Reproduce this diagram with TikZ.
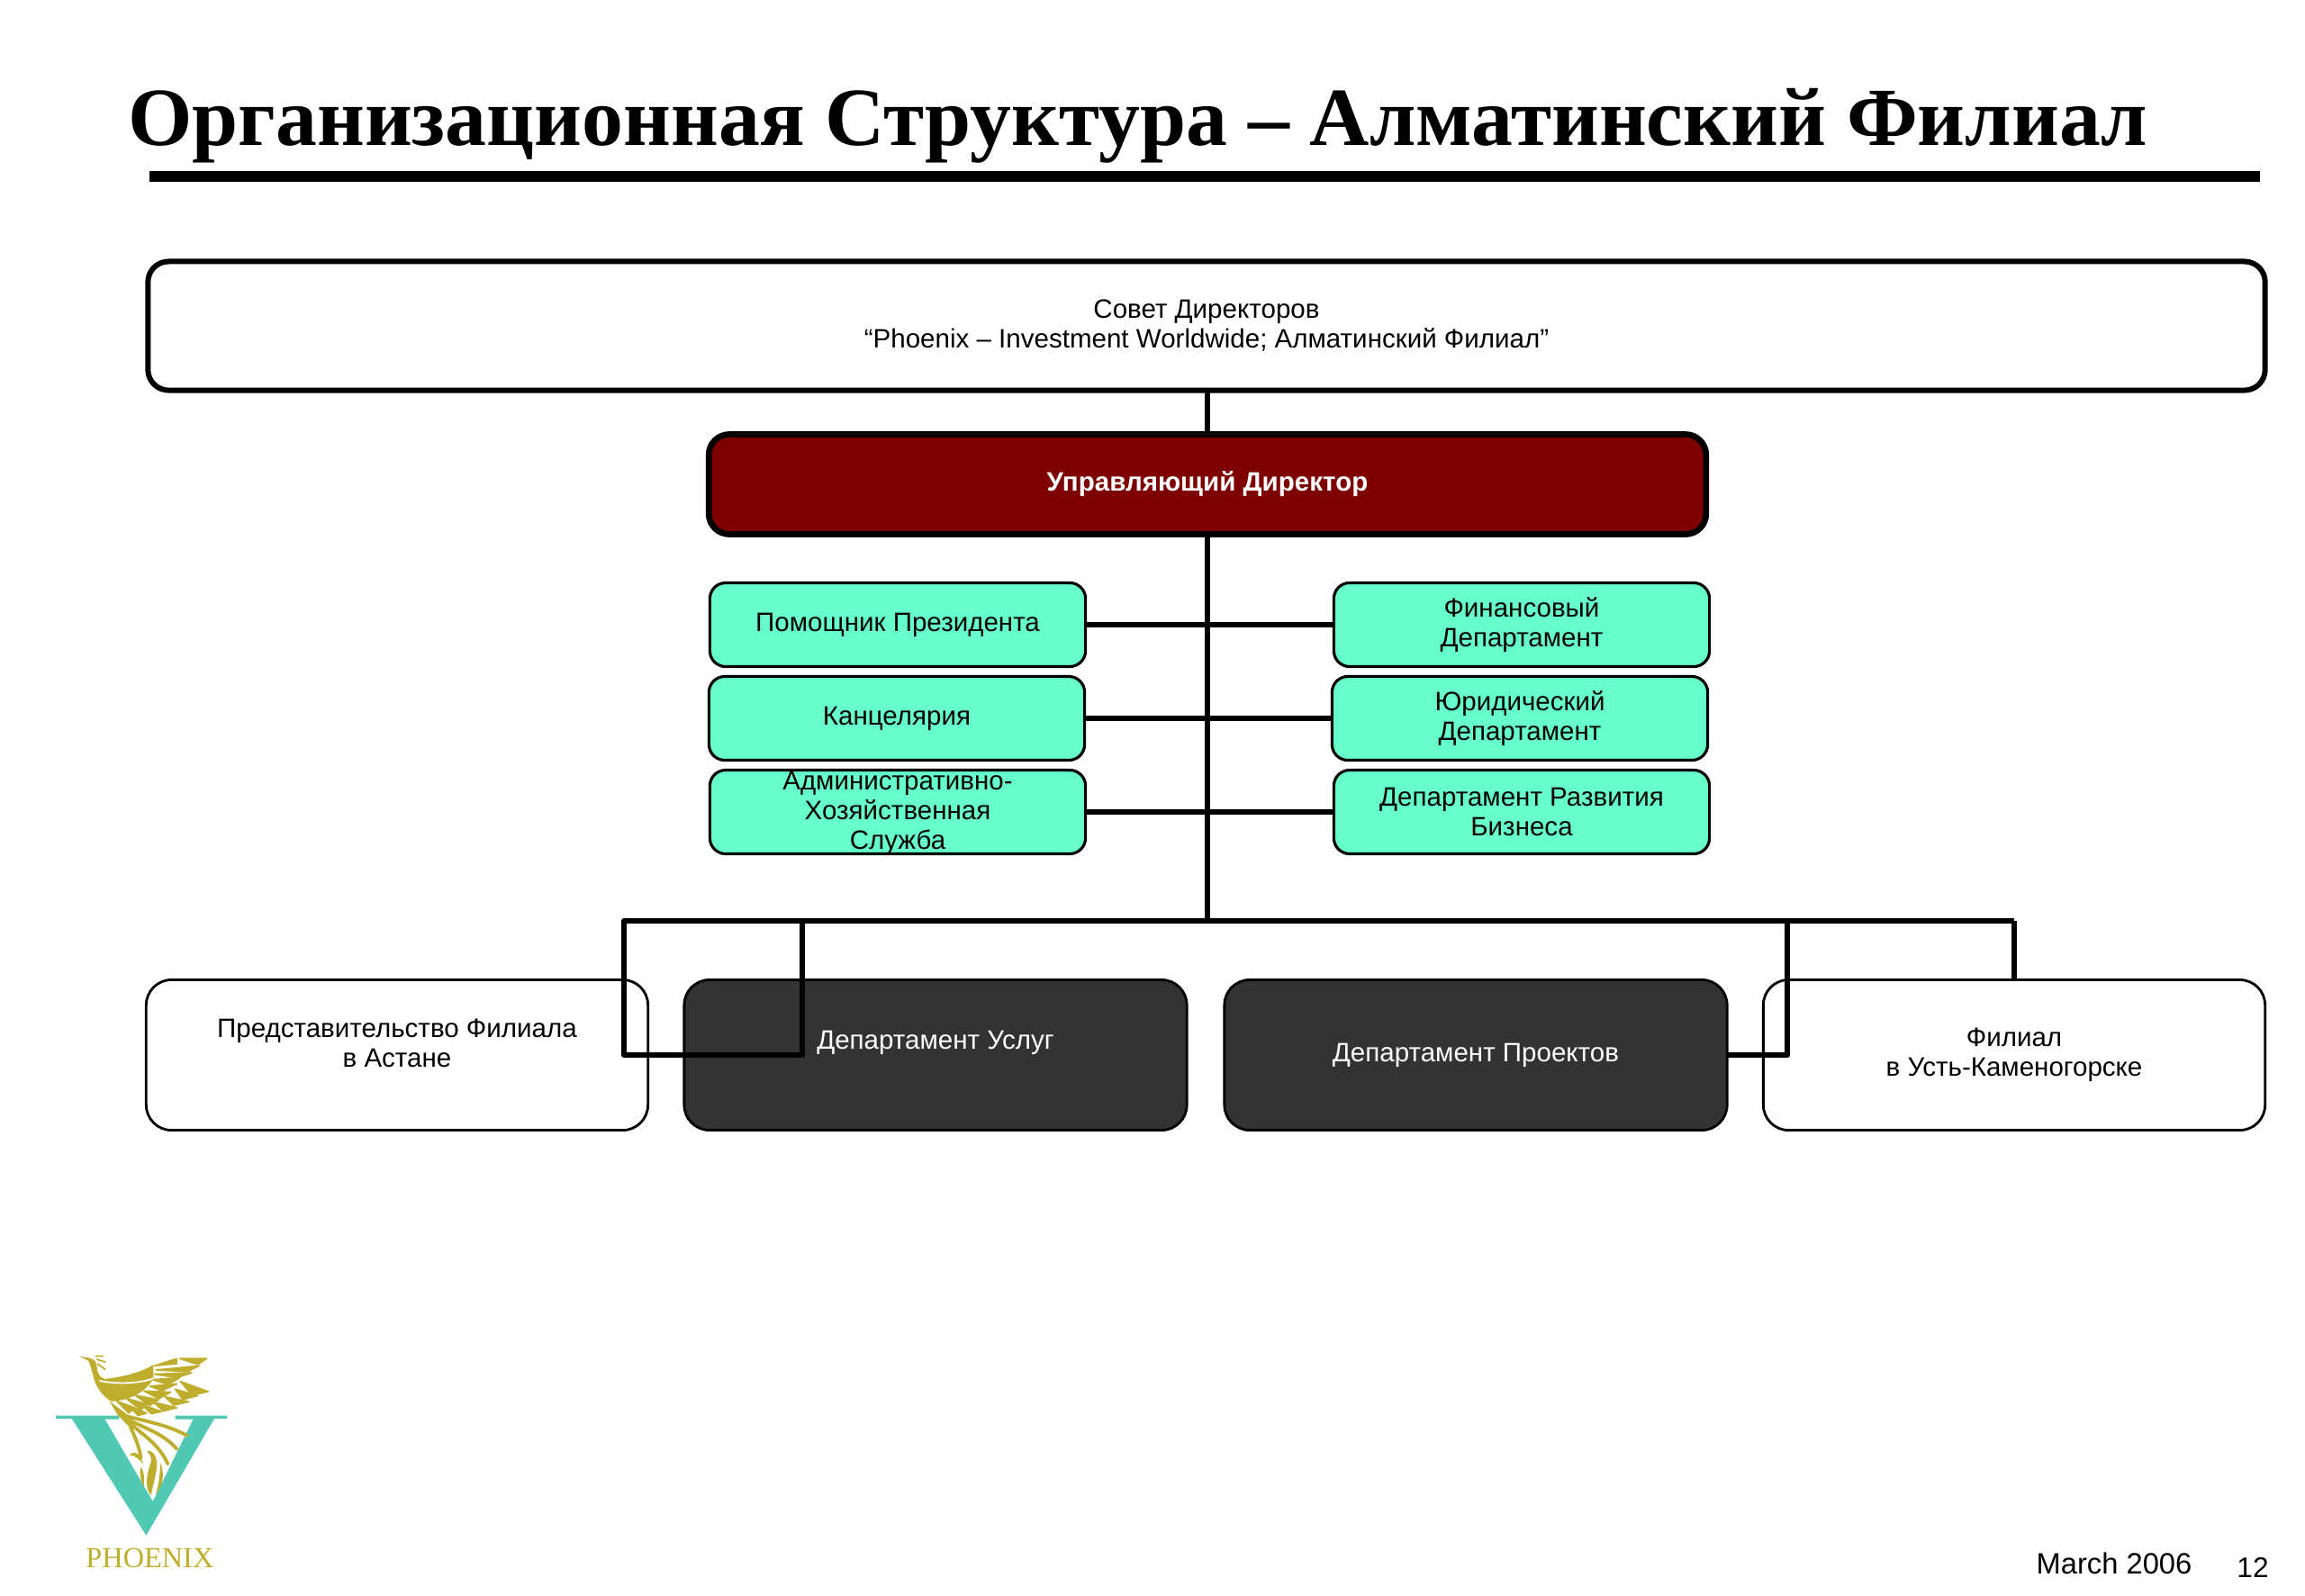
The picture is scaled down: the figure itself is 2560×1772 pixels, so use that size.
\documentclass[tikz,border=0pt]{standalone}
\usepackage{fontspec}
\setmainfont{Liberation Sans}
\newfontfamily\titlefont{Liberation Serif}
\usetikzlibrary{positioning}
\definecolor{mintfill}{HTML}{66FFCC}
\definecolor{maroonfill}{HTML}{7F0000}
\definecolor{darkfill}{HTML}{333333}
\definecolor{logoteal}{HTML}{4FC9B4}
\definecolor{logogold}{HTML}{BFAE2E}
\tikzset{
  basebox/.style={draw=black, rectangle, rounded corners=6.5pt, inner sep=0pt, outer sep=0pt, align=center,
    font=\fontsize{8.4}{9.4}\selectfont},
  boardbox/.style={basebox, line width=1.7pt, minimum width=23.5cm, minimum height=1.43cm},
  chiefbox/.style={basebox, line width=1.9pt, fill=maroonfill, text=white, minimum width=11.07cm, minimum height=1.11cm,
    font=\fontsize{8.4}{9.4}\bfseries\selectfont},
  mintbox/.style={basebox, line width=0.9pt, fill=mintfill, rounded corners=5pt, minimum width=4.17cm, minimum height=0.93cm},
  officebox/.style={basebox, line width=0.8pt, fill=white, rounded corners=8pt, minimum width=5.57cm, minimum height=1.67cm},
  deptbox/.style={basebox, line width=0.8pt, fill=darkfill, text=white, rounded corners=8pt, minimum width=5.58cm, minimum height=1.67cm},
  trunk/.style={line width=1.8pt, line join=round},
  thinwing/.style={logogold, line width=1.1pt, line cap=round},
  flame/.style={fill=logogold, draw=none},
  featherfill/.style={fill=logogold, draw=logogold, line width=0.45pt, line join=round}
}
\begin{document}
\begin{tikzpicture}[x=0.01cm, y=-0.01cm]
  \useasboundingbox (0,0) rectangle (2560,1772);

  % title
  \node[font=\titlefont\fontsize{26.1}{31}\bfseries\selectfont, inner sep=0pt] (title) at (1264,140) {Организационная Структура – Алматинский Филиал};
  \coordinate (ruleL) at (166,196);
  \coordinate (ruleR) at (2510,196);
  \draw[line width=3.4pt] (ruleL) -- (ruleR);

  % draw boxes
  \node[boardbox] (board) at (1340,362) {Совет Директоров\\“Phoenix – Investment Worldwide; Алматинский Филиал”};
  \node[chiefbox] (chief) at (1341,538) {Управляющий Директор};

  \node[mintbox] (assist) at (997,694) {Помощник Президента};
  \node[mintbox] (office) at (996,798) {Канцелярия};
  \node[mintbox] (admin) at (997,902) {\raisebox{-5pt}{\smash{\begin{tabular}{@{}c@{}}Административно-\\Хозяйственная\\Служба\end{tabular}}}};
  \node[mintbox] (finance) at (1690,694) {Финансовый\\Департамент};
  \node[mintbox] (legal) at (1688,798) {Юридический\\Департамент};
  \node[mintbox] (growth) at (1690,902) {Департамент Развития\\Бизнеса};

  \node[officebox] (astana) at (441,1172) {Представительство Филиала\\в Астане\\[-1.7pt] \mbox{}};
  \node[deptbox] (services) at (1039,1172) {Департамент Услуг\\ \mbox{}};
  \node[deptbox] (projects) at (1639,1172) {Департамент Проектов};
  \node[officebox] (ustkam) at (2237,1172) {Филиал\\в Усть-Каменогорске};

  % draw connectors
  \coordinate (busM) at (1341,1023);
  \coordinate (busL) at (693,1023);
  \coordinate (busS) at (891,1023);
  \coordinate (lowL) at (693,1172);
  \coordinate (lowS) at (891,1172);
  \coordinate (busP) at (1985,1023);
  \coordinate (busR) at (2237,1023);
  \draw[trunk] (board.south -| chief.north) -- (chief.north);
  \draw[trunk] (chief.south) -- (busM);
  \draw[trunk] (assist) -- (finance);
  \draw[trunk] (office) -- (legal);
  \draw[trunk] (admin) -- (growth);
  \draw[trunk] (busR) -- (busL) -- (lowL) -- (lowS) -- (busS);
  \draw[trunk] (projects.east) -| (busP);
  \draw[trunk] (busR) -- (ustkam.north);

  % logo
  \begin{scope}[shift={(0,1460)}, x=0.00333cm, y=-0.00333cm]
    \fill[logoteal] (187,338) -- (398,338) -- (398,350) -- (350,350) -- (510,625) -- (645,350) -- (585,350) -- (585,338)
      -- (757,338) -- (757,349) -- (715,349) -- (488,738) -- (240,349) -- (187,349) -- cycle;
    % head and body
    \fill[logogold] (265,140) -- (300,146) .. controls (318,150) and (325,165) .. (324,185)
      .. controls (328,200) and (335,212) .. (350,216) .. controls (420,208) and (480,190) .. (512,168)
      -- (512,215) .. controls (480,270) and (410,292) .. (370,290)
      .. controls (345,275) and (322,245) .. (315,220) .. controls (308,195) and (302,170) .. (295,155) -- cycle;
    \draw[white, line width=0.5pt] (332,222) .. controls (390,234) and (460,232) .. (514,214);
    \draw[logogold, line width=0.5pt] (318,140) -- (345,140) (322,150) -- (352,160) (325,165) -- (352,185);
    % wing feathers
    \foreach \xa/\ya/\xb/\yb/\xc/\yc in {
      515/172/590/148/590/165, 600/148/690/148/660/168, 520/186/665/172/625/192, 515/200/640/195/590/212,
      510/218/600/212/560/235, 602/224/695/258/640/270, 500/240/590/232/540/256, 585/250/660/272/610/285,
      480/256/570/260/530/282, 550/275/630/292/580/304, 450/270/530/285/500/305, 510/292/590/312/545/323,
      420/280/490/300/470/320, 470/300/540/325/505/332, 390/290/450/312/430/330, 430/305/490/330/460/338}
      \filldraw[featherfill] (\xa,\ya) -- (\xb,\yb) -- (\xc,\yc) -- cycle;
    % tail
    \fill[logogold] (365,290) -- (425,335) -- (450,385) -- (425,370) -- (392,335) -- cycle;
    \draw[thinwing] (420,340) .. controls (480,355) and (560,370) .. (625,405);
    \draw[thinwing] (420,345) .. controls (460,375) and (540,390) .. (590,450);
    \draw[thinwing] (425,355) .. controls (470,400) and (530,430) .. (560,500);
    \draw[thinwing] (435,375) .. controls (450,410) and (465,440) .. (470,480);
    % flames
    \fill[flame] (432,470) .. controls (450,450) and (470,470) .. (478,500) .. controls (465,485) and (450,470) .. cycle;
    \fill[flame] (490,455) .. controls (520,455) and (530,490) .. (520,530) .. controls (512,575) and (505,590) .. (505,605)
      .. controls (480,580) and (490,530) .. (505,490) .. controls (505,470) and (495,465) .. cycle;
    \fill[flame] (470,510) .. controls (485,530) and (480,560) .. (480,575) .. controls (468,555) and (465,530) .. cycle;
    \fill[flame] (535,495) .. controls (550,530) and (545,570) .. (520,603) .. controls (530,565) and (535,530) .. cycle;
    % wordmark
    \node[font=\titlefont\fontsize{9.2}{11}\selectfont, text=logogold, inner sep=0pt] (phoenix) at (500,815) {PHOENIX};
  \end{scope}

  % footer
  \node[font=\fontsize{9.3}{11}\selectfont, inner sep=0pt] (date) at (2348,1737) {March 2006};
  \node[font=\fontsize{9}{11}\selectfont, inner sep=0pt] (page) at (2502,1741) {12};
\end{tikzpicture}
\end{document}
